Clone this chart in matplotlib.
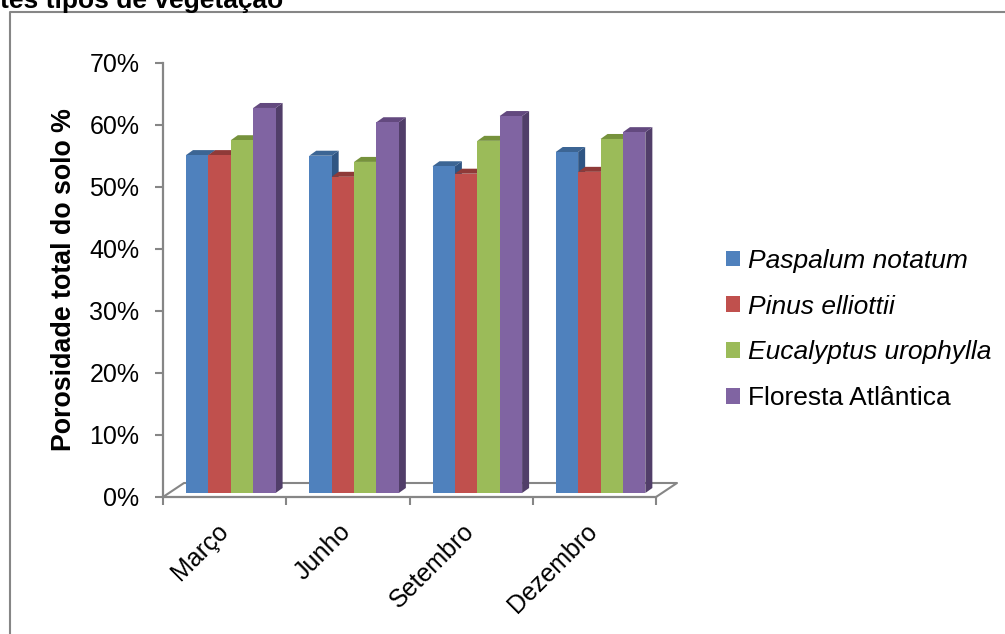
import numpy as np
from matplotlib import pyplot as plt
from matplotlib.patches import Polygon, Rectangle
from matplotlib.lines import Line2D

plt.rcParams['font.family'] = ['Liberation Sans', 'DejaVu Sans']

## donnees

meses = ['Março', 'Junho', 'Setembro', 'Dezembro']
paspalum = [54.5, 54.4, 52.7, 55.0]
pinus = [54.5, 51.0, 51.5, 51.8]
eucalyptus = [56.9, 53.4, 56.8, 57.1]
floresta = [62.1, 59.8, 60.8, 58.2]
nomes = ['Paspalum notatum', 'Pinus elliottii', 'Eucalyptus urophylla', 'Floresta Atlântica']
yticks = [0, 10, 20, 30, 40, 50, 60, 70]

series = [paspalum, pinus, eucalyptus, floresta]
cores = ['#4F81BD', '#C0504D', '#9BBB59', '#8064A2']
cores_topo = ['#3C6594', '#8F3A38', '#76923C', '#63497F']
cores_lado = ['#2F5583', '#7F2F2D', '#667F33', '#513E69']
cinza = '#868686'

W, H = 1005, 634
fig = plt.figure(figsize=(W / 100, H / 100), dpi=100)
ax = fig.add_axes([163 / W, 1 - 497 / H, (656 - 163) / W, (497 - 63) / H])
ax.set_xlim(0, 4)
ax.set_ylim(0, 70)
ax.patch.set_alpha(0)

## profondeur du faux 3D, en unites des donnees

px_x = 4 / (656 - 163)
px_y = 70 / (497 - 63)
larg = 22.4 * px_x
dx, dy = 7 * px_x, 5 * px_y
base = 4 * px_y
marge = 23 * px_x

## sol

fx, fy = 21 * px_x, 14 * px_y
ax.add_line(Line2D([0, fx, 4 + fx, 4], [0, fy, fy, 0], color=cinza, lw=1.5, clip_on=False, zorder=1))

## barres

for g in range(len(meses)):
    for s in range(len(series)):
        x0 = g + marge + s * larg
        x1 = x0 + larg
        top = base + series[s][g]
        ax.add_patch(Polygon([(x1, base), (x1 + dx, base + dy), (x1 + dx, top + dy), (x1, top)],
                             fc=cores_lado[s], ec='none', zorder=2 + s))
        ax.add_patch(Polygon([(x0, top), (x0 + dx, top + dy), (x1 + dx, top + dy), (x1, top)],
                             fc=cores_topo[s], ec='none', zorder=2 + s))
        ax.bar(x0, series[s][g], larg, bottom=base, align='edge', color=cores[s], zorder=2 + s)

## axes

for c in ['top', 'right']:
    ax.spines[c].set_visible(False)
for c in ['left', 'bottom']:
    ax.spines[c].set_color(cinza)
    ax.spines[c].set_linewidth(1.6)

ax.set_yticks(yticks)
ax.set_yticklabels([str(v) + '%' for v in yticks], fontsize=18)
ax.tick_params(axis='y', length=6, width=1.5, color=cinza, pad=11)
ax.set_xticks(range(5))
ax.set_xticklabels([])
ax.tick_params(axis='x', which='major', length=5.5, width=1.5, color=cinza)
ax.set_xticks(np.arange(len(meses)) + 0.5 - 9 * px_x, minor=True)
ax.set_xticklabels(meses, minor=True, fontsize=18, rotation=45, ha='right', va='top', rotation_mode='anchor')
ax.tick_params(axis='x', which='minor', length=0, pad=16)

fig.text(64 / W, 1 - 280 / H, 'Porosidade total do solo %', rotation=90, fontsize=19.3,
         fontweight='bold', ha='center', va='center')

## legende

poignees = [Rectangle((0, 0), 1, 1, fc=c, ec='none') for c in cores]
leg = fig.legend(poignees, nomes, loc='center left', bbox_to_anchor=(726 / W, 1 - 329.5 / H),
                 frameon=False, fontsize=19, handlelength=0.53, handleheight=0.53,
                 handletextpad=0.3, labelspacing=0.83, borderpad=0, borderaxespad=0)
for t in leg.get_texts()[:3]:
    t.set_fontstyle('italic')

## cadre et titre coupe

fig.add_artist(Line2D([10 / W, 10 / W, 1], [0, 1 - 12 / H, 1 - 12 / H], color=cinza, lw=1.5))
fig.text(0, 1 - 8 / H, 'tes tipos de vegetação', fontsize=19, fontweight='bold', ha='left', va='baseline')

fig.savefig('out.png', dpi=100)
